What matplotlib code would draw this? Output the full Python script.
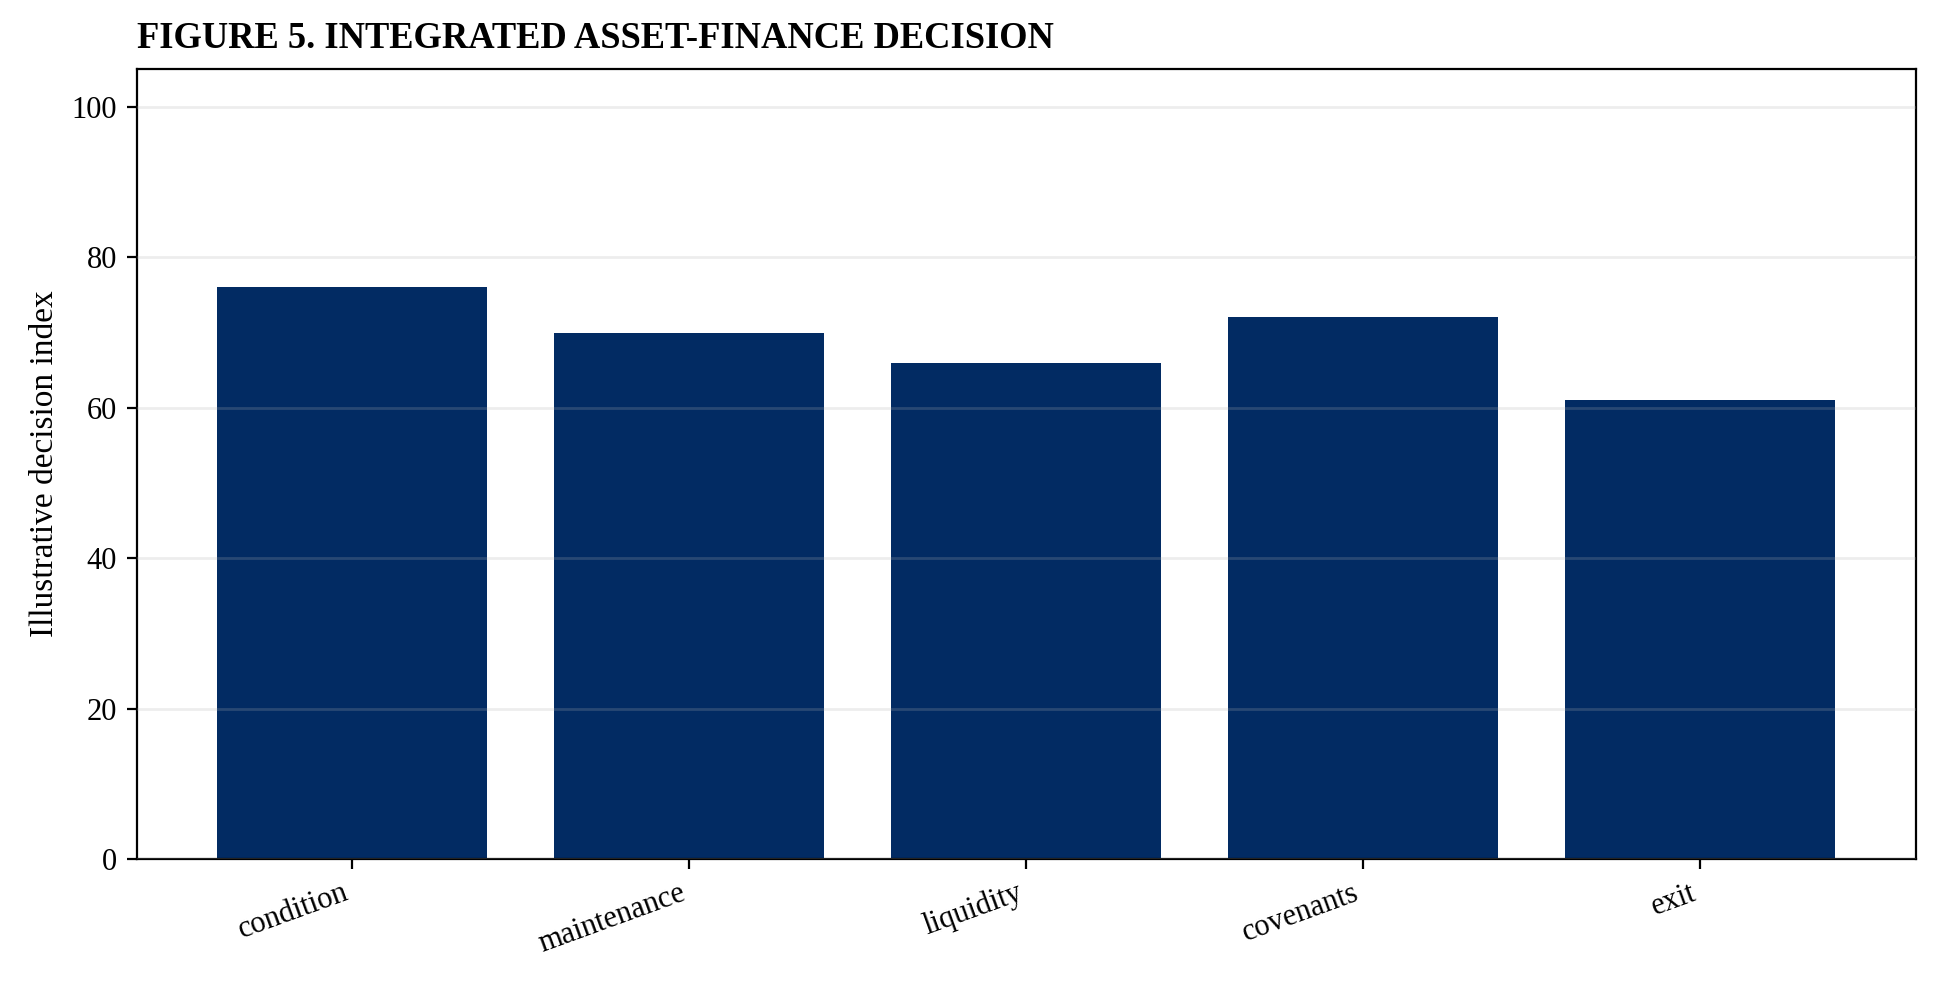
import matplotlib
matplotlib.use("Agg")
import matplotlib.pyplot as plt

# Illustrative decision index by stage
stages = ["condition", "maintenance", "liquidity", "covenants", "exit"]
index_values = [76, 70, 66, 72, 61]

BAR_COLOR = "#022b63"

plt.rcParams["font.family"] = ["Liberation Serif", "DejaVu Serif"]

fig, ax = plt.subplots(figsize=(9.695, 4.915), dpi=200)
ax.bar(stages, index_values, width=0.8, color=BAR_COLOR, zorder=1)
ax.set_ylim(0, 105)
ax.set_ylabel("Illustrative decision index", fontsize=12)
ax.set_title("FIGURE 5. INTEGRATED ASSET-FINANCE DECISION", loc="left",
             fontsize=13.15, fontweight="bold", pad=7.5)
# light grid sits on top of the bars, barely visible through them
ax.yaxis.grid(True, color="#b0b0b0", lw=1.0, alpha=0.22, zorder=2)
ax.set_axisbelow(False)
ax.tick_params(labelsize=11)
plt.setp(ax.get_xticklabels(), rotation=20, ha="right")
fig.subplots_adjust(left=0.0704, right=0.9881, top=0.9295, bottom=0.1262)
fig.savefig("out.png", dpi=200)
